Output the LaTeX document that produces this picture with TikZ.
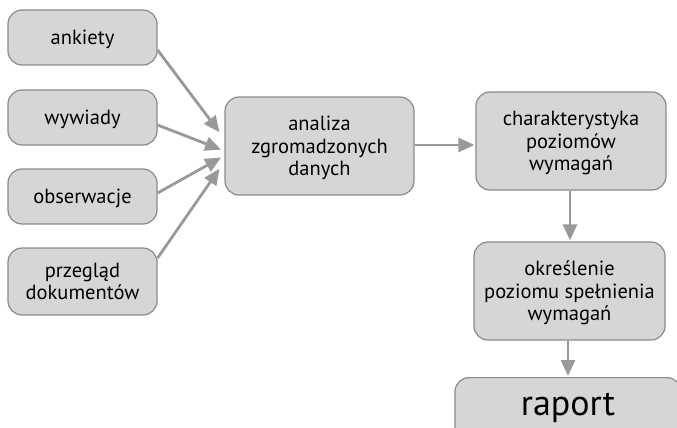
\documentclass[tikz,border=0pt]{standalone}
\usepackage{fontspec}
\setmainfont{PT Sans}
\usetikzlibrary{arrows.meta}
\definecolor{boxfill}{HTML}{D6D6D6}
\definecolor{boxline}{HTML}{8A8A8A}
\definecolor{arrowc}{HTML}{999999}
\tikzset{
  box/.style={draw=boxline, fill=boxfill, line width=1.2pt, rounded corners=14pt,
    align=center, inner sep=0pt, font=\fontsize{20.5}{22.5}\selectfont, text=black, text depth=0pt},
  conn/.style={draw=arrowc, line width=2.8pt, -{Triangle[length=16pt,width=14pt]}, shorten >=1pt}
}
\begin{document}
\begin{tikzpicture}[x=1pt,y=-1pt]
\useasboundingbox (0,0) rectangle (677,428);
\clip (0,0) rectangle (677,428);
\node[box, minimum width=149pt, minimum height=55pt] (ank) at (82.5,37.5) {ankiety};
\node[box, minimum width=149pt, minimum height=55pt] (wyw) at (82.5,117.5) {wywiady};
\node[box, minimum width=149pt, minimum height=55pt] (obs) at (82.5,196.5) {obserwacje};
\node[box, minimum width=149pt, minimum height=67pt] (prz) at (82.5,281.5) {przegląd\\dokumentów};
\node[box, minimum width=189pt, minimum height=98pt] (ana) at (319.5,146) {analiza\\zgromadzonych\\danych};
\node[box, minimum width=190pt, minimum height=98pt] (cha) at (571,141) {charakterystyka\\poziomów\\wymagań};
\node[box, minimum width=191pt, minimum height=98pt] (okr) at (569.5,291) {określenie\\poziomu spełnienia\\wymagań};
\node[box, minimum width=226pt, minimum height=100pt, anchor=north, font=\fontsize{36}{40}\selectfont, text depth=48pt, text height=24pt] (rap) at (568,377) {raport};
\coordinate (a1) at (220,133);
\coordinate (a2) at (222,150);
\coordinate (a3) at (222,157);
\coordinate (a4) at (220,168);
\draw[conn] (ank.east |- 0,50) -- (a1);
\draw[conn] (wyw.east |- 0,125) -- (a2);
\draw[conn] (obs.east |- 0,193) -- (a3);
\draw[conn] (prz.east |- 0,258) -- (a4);
\draw[conn] (ana.east |- 0,145) -- (cha.west |- 0,145);
\draw[conn] (cha.south -| 570,0) -- (okr.north -| 570,0);
\draw[conn] (okr.south -| 568,0) -- (rap.north);
\end{tikzpicture}
\end{document}
